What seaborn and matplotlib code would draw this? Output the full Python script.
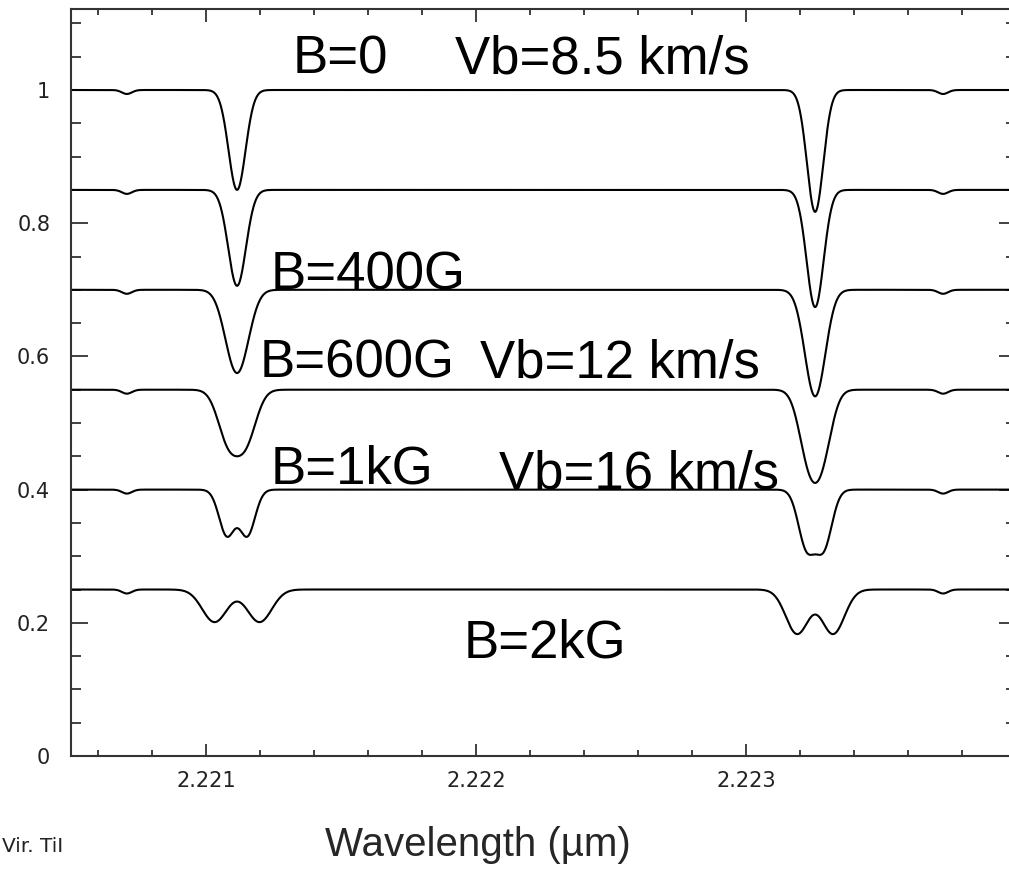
import numpy as np
import pandas as pd
import matplotlib
matplotlib.use("Agg")
import matplotlib.pyplot as plt
from matplotlib.ticker import MultipleLocator, FixedLocator, FixedFormatter
import seaborn as sns

# ---------------- data ----------------
# continuum level of each synthetic spectrum (offset copies)
continuum = [1.00, 0.85, 0.70, 0.55, 0.40, 0.25]
# the two Ti I lines (micron)
line1_center = 2.221115
line2_center = 2.223256
# observed maximum depth of each line in each spectrum
line1_depth = [0.150, 0.144, 0.125, 0.100, 0.071, 0.049]
line2_depth = [0.183, 0.176, 0.160, 0.140, 0.098, 0.067]
# half separation of the Zeeman components (micron)
line1_split = [0.0, 0.0, 1.85e-5, 3.33e-5, 3.78e-5, 8.33e-5]
line2_split = [0.0, 0.0, 1.48e-5, 2.59e-5, 3.20e-5, 6.67e-5]
# 1/e half width of each component (micron)
line1_width = [4.44e-5, 4.63e-5, 5.19e-5, 5.37e-5, 4.07e-5, 6.41e-5]
line2_width = [4.26e-5, 4.44e-5, 4.81e-5, 5.00e-5, 4.30e-5, 5.93e-5]
# weak blends
weak_centers = [2.220707, 2.223730]
weak_depth = 0.006
weak_width = 2.6e-5

ytick_values = [0, 0.2, 0.4, 0.6, 0.8, 1.0]
ytick_labels = ["0", "0.2", "0.4", "0.6", "0.8", "1"]
xtick_values = [2.221, 2.222, 2.223]
xtick_labels = ["2.221", "2.222", "2.223"]

labels = [
    ("B=0", 2.221319, 1.0255),
    ("Vb=8.5 km/s", 2.221922, 1.0255),
    ("B=400G", 2.221241, 0.6997),
    ("B=600G", 2.221200, 0.5676),
    ("Vb=12 km/s", 2.222015, 0.5676),
    ("B=1kG", 2.221241, 0.4099),
    ("Vb=16 km/s", 2.222085, 0.4024),
    ("B=2kG", 2.221956, 0.1486),
]

# ---------------- build spectra ----------------
wl = np.linspace(2.2205, 2.2240, 4000)


def zeeman_profile(center, split, width):
    p = np.exp(-((wl - center - split) / width) ** 2) + np.exp(-((wl - center + split) / width) ** 2)
    return p / p.max()


rows = []
for i, c in enumerate(continuum):
    flux = (c
            - line1_depth[i] * zeeman_profile(line1_center, line1_split[i], line1_width[i])
            - line2_depth[i] * zeeman_profile(line2_center, line2_split[i], line2_width[i]))
    for wc in weak_centers:
        flux = flux - weak_depth * np.exp(-((wl - wc) / weak_width) ** 2)
    rows.append(pd.DataFrame({"wavelength": wl, "flux": flux, "curve": i}))
df = pd.concat(rows, ignore_index=True)

# ---------------- plot ----------------
sns.set_style("ticks")
plt.rcParams["font.family"] = ["Liberation Sans", "DejaVu Sans"]

W, H = 1009, 869
fig = plt.figure(figsize=(W / 100, H / 100), dpi=100)
ax = fig.add_axes([71 / W, 113 / H, 945 / W, 747 / H])

sns.lineplot(data=df, x="wavelength", y="flux", units="curve", estimator=None,
             color="black", linewidth=1.5, sort=False, ax=ax, legend=False)

ax.set_xlim(2.2205, 2.2240)
ax.set_ylim(0, 747 / 666)

ax.xaxis.set_major_locator(FixedLocator(xtick_values))
ax.xaxis.set_major_formatter(FixedFormatter(xtick_labels))
ax.xaxis.set_minor_locator(MultipleLocator(0.0002))
ax.yaxis.set_major_locator(FixedLocator(ytick_values))
ax.yaxis.set_major_formatter(FixedFormatter(ytick_labels))
ax.yaxis.set_minor_locator(MultipleLocator(0.05))

ax.tick_params(axis="both", which="both", direction="in", top=True, right=True,
               color="#333333", width=1.3)
ax.tick_params(axis="x", which="major", length=9, pad=11)
ax.tick_params(axis="x", which="minor", length=4.5)
ax.tick_params(axis="y", which="major", length=12, pad=15)
ax.tick_params(axis="y", which="minor", length=7)
for lab in ax.get_xticklabels() + ax.get_yticklabels():
    lab.set_fontfamily("DejaVu Sans")
    lab.set_fontsize(15)
    lab.set_color("#222222")

for s in ax.spines.values():
    s.set_color("#333333")
    s.set_linewidth(1.5)

ax.set_ylabel("")
ax.set_xlabel("Wavelength (µm)", fontsize=29, va="baseline")
ax.xaxis.set_label_coords((478 - 71) / 945, (756 - 856) / 747)

for text, x, y in labels:
    ax.text(x, y, text, fontsize=38, ha="left", va="baseline", color="black")

fig.text(2 / W, 1 - 852 / H, "Vir. TiI", fontsize=14.5, family="DejaVu Sans",
         ha="left", va="baseline", color="#222222")

fig.savefig("out.png", dpi=100)
